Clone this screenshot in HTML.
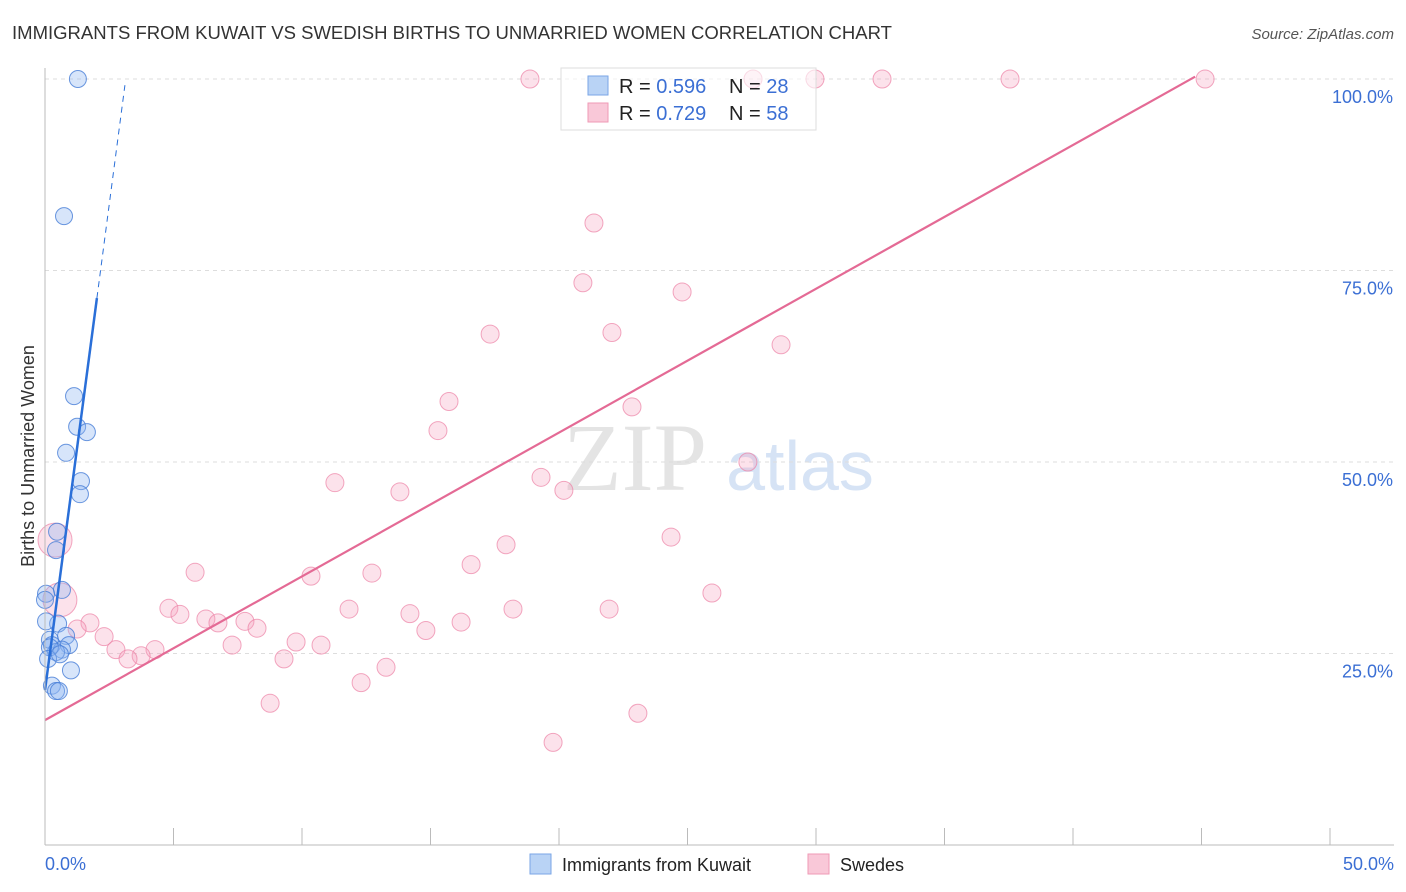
<!DOCTYPE html>
<html><head><meta charset="utf-8">
<style>
body{margin:0;background:#fff;font-family:"Liberation Sans",sans-serif;}
#c{position:relative;width:1406px;height:892px;overflow:hidden}
</style></head>
<body>
<div id="c">
<svg id="s" width="1406" height="892" xmlns="http://www.w3.org/2000/svg">
<text x="12" y="39" font-size="18" fill="#333" textLength="880" lengthAdjust="spacingAndGlyphs">IMMIGRANTS FROM KUWAIT VS SWEDISH BIRTHS TO UNMARRIED WOMEN CORRELATION CHART</text>
<text x="1394" y="39" font-size="15" fill="#555" text-anchor="end" font-style="italic">Source: ZipAtlas.com</text>
<text x="34" y="456" font-size="18" fill="#333" text-anchor="middle" transform="rotate(-90 34 456)">Births to Unmarried Women</text>
<text x="635" y="490" font-size="96" fill="#e4e4e4" font-family="Liberation Serif,serif" text-anchor="middle">ZIP</text>
<text x="800" y="490" font-size="70" fill="#d6e3f5" text-anchor="middle">atlas</text>
<g id="grid"></g><g id="pts"></g><g id="lines"></g>
<line x1="45" y1="68" x2="45" y2="845" stroke="#bbb"/>
<line x1="45" y1="845" x2="1394" y2="845" stroke="#bbb"/>
<g>
<rect x="561" y="68" width="255" height="62" fill="#fff" fill-opacity="0.6" stroke="#ddd"/>
<rect x="588" y="76" width="20" height="19" fill="#b9d3f5" stroke="#7aa6e6"/>
<rect x="588" y="103" width="20" height="19" fill="#f9c8d8" stroke="#ef9ab6"/>
<text x="619" y="93" font-size="20" fill="#222">R = <tspan fill="#3b6fd4">0.596</tspan></text>
<text x="729" y="93" font-size="20" fill="#222">N = <tspan fill="#3b6fd4">28</tspan></text>
<text x="619" y="120" font-size="20" fill="#222">R = <tspan fill="#3b6fd4">0.729</tspan></text>
<text x="729" y="120" font-size="20" fill="#222">N = <tspan fill="#3b6fd4">58</tspan></text>
</g>
<text x="45" y="870" font-size="18" fill="#3b6fd4">0.0%</text>
<text x="1394" y="870" font-size="18" fill="#3b6fd4" text-anchor="end">50.0%</text>
<g><rect x="530" y="854" width="21" height="20" fill="#b9d3f5" stroke="#7aa6e6"/><text x="562" y="871" font-size="18" fill="#222">Immigrants from Kuwait</text></g>
<g><rect x="808" y="854" width="21" height="20" fill="#f9c8d8" stroke="#ef9ab6"/><text x="840" y="871" font-size="18" fill="#222">Swedes</text></g>
</svg>
</div>
<script>
const yTicks=[25,50,75,100];
const yTickLabels=["25.0%","50.0%","75.0%","100.0%"];
const xTicks=[0,5,10,15,20,25,30,35,40,45,50];
const blueX=[1.28,0.74,1.13,1.25,1.63,0.82,1.4,1.36,0.47,0.43,0.66,0.04,0.51,0.82,0.19,0.27,0.93,0.66,0.43,0.19,1.01,0.27,0.43,0.54,0.04,0.12,0.58,0];
const blueY=[100,82.1,58.6,54.6,53.9,51.2,47.5,45.8,40.9,38.5,33.3,32.8,28.9,27.3,26.8,26.1,26.1,25.5,25.2,25.8,22.8,20.8,20.1,20.1,29.2,24.3,24.9,32];
const pinkX=[18.87,27.55,29.96,32.57,37.55,45.14,21.36,20.93,24.79,17.32,22.06,28.64,15.72,22.84,15.29,27.35,11.28,19.3,20.19,13.81,17.94,24.36,0.39,5.84,16.58,10.35,12.72,25.95,0.58,4.82,11.83,18.21,21.95,5.25,14.2,6.26,6.73,7.78,1.75,1.25,8.25,14.82,16.19,2.3,9.77,10.74,7.28,4.28,2.76,3.74,3.23,9.3,13.27,12.3,8.76,23.07,19.77];
const pinkY=[100,100,100,100,100,100,81.2,73.4,72.2,66.7,66.9,65.3,57.9,57.2,54.1,50,47.3,48,46.3,46.1,39.2,40.2,39.8,35.6,36.6,35.1,35.5,32.9,32,30.9,30.8,30.8,30.8,30.1,30.2,29.5,29,29.2,29,28.2,28.3,28,29.1,27.2,26.5,26.1,26.1,25.5,25.5,24.7,24.3,24.3,23.2,21.2,18.5,17.2,13.4];
const blueLine=[[0,20.2],[2.02,71.4]];
const blueDash=[[2.02,71.4],[3.11,99.2]];
const pinkLine=[[0,16.3],[44.75,100.3]];
const X=v=>45+v*25.7, Y=v=>845-v*7.66;
const NS="http://www.w3.org/2000/svg";
function mk(t,a,p){const e=document.createElementNS(NS,t);for(const k in a)e.setAttribute(k,a[k]);p.appendChild(e);return e;}
const g=document.getElementById('grid');
yTicks.forEach((t,i)=>{
 const l=mk('line',{x1:45,x2:1394,y1:Y(t),y2:Y(t),stroke:'#ddd','stroke-dasharray':'4,4'},g);
 
 
 const tx=mk('text',{x:1393,y:Y(t)+24,'font-size':18,fill:'#3b6fd4','text-anchor':'end'},g);
 tx.textContent=yTickLabels[i];
 
 
});
xTicks.forEach(t=>{
 const l=mk('line',{x1:X(t),x2:X(t),y1:828,y2:845,stroke:'#bbb'},g);
 
 
});
const p=document.getElementById('pts');
pinkX.forEach((x,i)=>{
 const big=(i==22||i==28);
 const c=mk('circle',{cx:X(x),cy:Y(pinkY[i]),r:big?17:9,fill:'rgba(244,160,190,0.3)',stroke:'rgba(236,130,165,0.7)','stroke-width':1},p);
 
 
});
blueX.forEach((x,i)=>{
 const c=mk('circle',{cx:X(x),cy:Y(blueY[i]),r:8.5,fill:'rgba(140,180,240,0.35)',stroke:'rgba(70,125,215,0.8)','stroke-width':1},p);
 
 
});
const L=document.getElementById('lines');
let e=mk('line',{x1:X(blueLine[0][0]),y1:Y(blueLine[0][1]),x2:X(blueLine[1][0]),y2:Y(blueLine[1][1]),stroke:'#2a6fd8','stroke-width':2.5},L);


e=mk('line',{x1:X(blueDash[0][0]),y1:Y(blueDash[0][1]),x2:X(blueDash[1][0]),y2:Y(blueDash[1][1]),stroke:'#2a6fd8','stroke-width':1,'stroke-dasharray':'6,5'},L);


e=mk('line',{x1:X(pinkLine[0][0]),y1:Y(pinkLine[0][1]),x2:X(pinkLine[1][0]),y2:Y(pinkLine[1][1]),stroke:'#e46a95','stroke-width':2.2},L);


</script>
</body></html>
